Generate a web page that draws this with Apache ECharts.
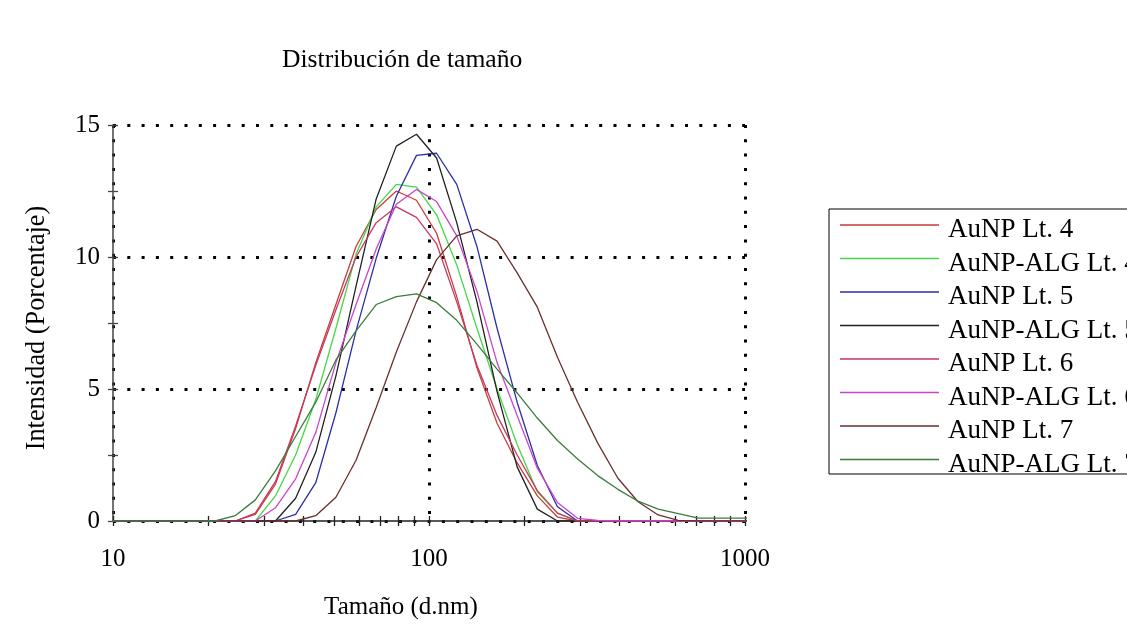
<!DOCTYPE html>
<html><head><meta charset="utf-8">
<script src="https://cdn.jsdelivr.net/npm/echarts/dist/echarts.min.js"></script>
<style>html,body{margin:0;padding:0;background:#fff}#c{width:1127px;height:639px}</style>
</head><body><div id="c"></div>
<script>
// Size bins (d.nm)
const sizes = [8.721, 10.10, 11.70, 13.54, 15.69, 18.17, 21.04, 24.36, 28.21, 32.67, 37.84, 43.82, 50.75, 58.77, 68.06, 78.82, 91.28, 105.7, 122.4, 141.8, 164.2, 190.1, 220.2, 255.0, 295.3, 342.0, 396.1, 458.7, 531.2, 615.1, 712.4, 825.0, 955.4, 1106];
const seriesNames = ['AuNP Lt. 4', 'AuNP-ALG Lt. 4', 'AuNP Lt. 5', 'AuNP-ALG Lt. 5', 'AuNP Lt. 6', 'AuNP-ALG Lt. 6', 'AuNP Lt. 7', 'AuNP-ALG Lt. 7'];
const seriesColors = ['#c83c3c', '#44d844', '#2b2fa8', '#222222', '#c43a60', '#cc44cc', '#6b2f2f', '#3b7d3b'];
const auNP4    = [0,0,0,0,0,0,0,0,0.25,1.4,3.5,6.0,8.2,10.4,11.8,12.5,12.15,10.9,8.5,5.8,3.7,2.2,0.95,0.15,0,0,0,0,0,0,0,0,0,0];
const auNPALG4 = [0,0,0,0,0,0,0,0,0,0.95,2.5,4.6,7.3,10.1,11.9,12.75,12.65,11.6,9.7,7.3,5.0,2.9,1.1,0.3,0,0,0,0,0,0,0,0,0,0];
const auNP5    = [0,0,0,0,0,0,0,0,0,0,0.25,1.45,4.1,7.2,9.95,12.3,13.85,13.93,12.75,10.4,7.3,4.5,2.1,0.54,0,0,0,0,0,0,0,0,0,0];
const auNPALG5 = [0,0,0,0,0,0,0,0,0,0,0.86,2.6,5.5,8.9,12.2,14.2,14.65,13.75,11.3,8.3,4.9,2.05,0.45,0,0,0,0,0,0,0,0,0,0,0];
const auNP6    = [0,0,0,0,0,0,0,0,0.3,1.5,3.6,5.9,8.0,10.0,11.3,11.9,11.5,10.5,8.3,5.9,4.0,2.5,1.15,0.3,0,0,0,0,0,0,0,0,0,0];
const auNPALG6 = [0,0,0,0,0,0,0,0,0,0.5,1.6,3.35,6.0,8.2,10.3,12.0,12.56,12.1,10.8,8.7,6.0,4.0,2.0,0.7,0.1,0.02,0,0,0,0,0,0,0,0];
const auNP7    = [0,0,0,0,0,0,0,0,0,0,0,0.2,0.9,2.3,4.3,6.4,8.3,9.9,10.8,11.05,10.6,9.4,8.1,6.2,4.5,2.95,1.62,0.73,0.23,0.02,0,0,0,0];
const auNPALG7 = [0,0,0,0,0,0,0,0.2,0.8,1.9,3.2,4.5,6.1,7.2,8.2,8.5,8.6,8.27,7.6,6.7,5.75,4.85,3.9,3.05,2.35,1.72,1.2,0.75,0.45,0.28,0.11,0.11,0.11,0.11];
const allValues = [auNP4, auNPALG4, auNP5, auNPALG5, auNP6, auNPALG6, auNP7, auNPALG7];
const xTickValues = [10,20,30,40,50,60,70,80,90,100,200,300,400,500,600,700,800,900,1000];
const yTicks = [0, 5, 10, 15];

const FONT = "'Liberation Serif', 'Times New Roman', serif";
const dotted = {color: '#000', width: 3, type: [3, 11.3]};
// legend sample: a thin line placed above the text middle, with a small gap on the right
const legendIcon = 'path://M0,0 L0,0.01 M0,4.3 L99,4.3 L99,5.7 L0,5.7 Z M103,20 L103,19.99';

const chart = echarts.init(document.getElementById('c'), null, {renderer: 'canvas'});
chart.setOption({
  animation: false,
  backgroundColor: '#fff',
  title: {
    text: 'Distribución de tamaño', left: 282, top: 47, padding: 0,
    textStyle: {fontFamily: FONT, fontSize: 25.6, fontWeight: 'normal', color: '#000'}
  },
  grid: {left: 113, right: 382, top: 125, bottom: 118, containLabel: false},
  legend: {
    orient: 'vertical', left: 829, top: 209,
    padding: [7.5, 10, -4, 11], itemGap: 6.5, itemWidth: 103, itemHeight: 20,
    icon: legendIcon, itemStyle: {borderWidth: 0},
    borderColor: '#000', borderWidth: 1,
    textStyle: {fontFamily: FONT, fontSize: 27, color: '#000'},
    data: seriesNames
  },
  xAxis: [{
    type: 'log', logBase: 10, min: 10, max: 1000,
    name: 'Tamaño (d.nm)', nameLocation: 'middle', nameGap: 74,
    nameTextStyle: {fontFamily: FONT, fontSize: 25, color: '#000', padding: [0, 56, 0, 0]},
    axisLine: {show: true, lineStyle: {color: '#222', width: 1.5}},
    axisTick: {show: false},
    axisLabel: {fontFamily: FONT, fontSize: 25, color: '#000', margin: 26, formatter: v => String(v)},
    splitLine: {show: true, lineStyle: dotted},
    minorTick: {show: false}
  }, {
    type: 'log', logBase: 10, min: 10, max: 1000, position: 'bottom', offset: -5,
    axisLine: {show: false},
    axisTick: {show: true, inside: false, length: 10, customValues: xTickValues, lineStyle: {color: '#222', width: 1.3}},
    axisLabel: {show: false},
    splitLine: {show: false}
  }],
  yAxis: [{
    type: 'value', min: yTicks[0], max: yTicks[yTicks.length - 1], interval: 5,
    name: 'Intensidad (Porcentaje)', nameLocation: 'middle', nameGap: 63, nameRotate: 90,
    nameTextStyle: {fontFamily: FONT, fontSize: 26.3, color: '#000', padding: [0, 10, 0, 0]},
    axisLine: {show: true, lineStyle: {color: '#444', width: 1.5}},
    axisTick: {show: false},
    axisLabel: {fontFamily: FONT, fontSize: 25, color: '#000', margin: 13},
    splitLine: {show: true, lineStyle: dotted}
  }, {
    type: 'value', min: yTicks[0], max: yTicks[yTicks.length - 1], interval: 5, position: 'left', offset: -5,
    axisLine: {show: false},
    axisTick: {show: true, inside: false, length: 10, lineStyle: {color: '#444', width: 1.3}},
    minorTick: {show: true, splitNumber: 2, length: 10, lineStyle: {color: '#444', width: 1.3}},
    axisLabel: {show: false},
    splitLine: {show: false}
  }],
  series: seriesNames.map((name, k) => ({
    name: name, type: 'line', symbol: 'none', clip: true,
    xAxisIndex: 0, yAxisIndex: 0,
    color: seriesColors[k],
    lineStyle: {color: seriesColors[k], width: 1.3},
    data: sizes.map((s, i) => [s, allValues[k][i]])
  }))
});
</script></body></html>
